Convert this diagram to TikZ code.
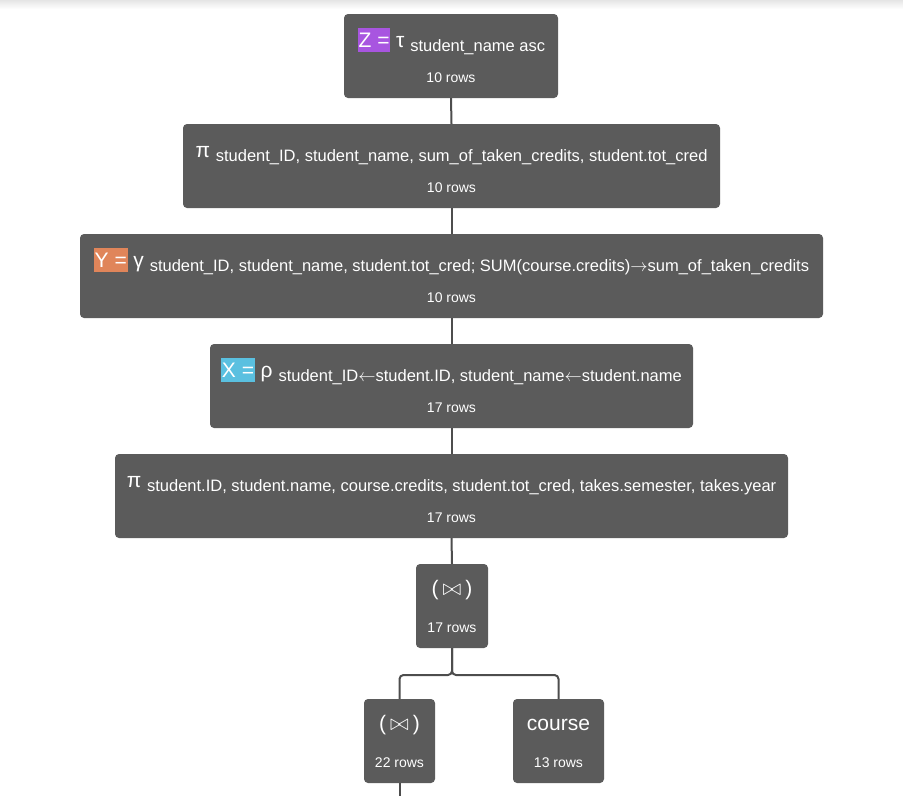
\documentclass[tikz,border=0pt]{standalone}
\usepackage{fontspec}
\setmainfont{Liberation Sans}
\definecolor{boxgray}{HTML}{5B5B5B}
\definecolor{linegray}{HTML}{4D4D4D}
\definecolor{zc}{HTML}{A855E0}
\definecolor{yc}{HTML}{E0855A}
\definecolor{xc}{HTML}{5AC0E0}
\newcommand\hlbox[2]{{\setlength{\fboxsep}{0.8pt}\colorbox{#1}{\rule[-4pt]{0pt}{22pt}#2}}}
\newcommand\mainsz{\fontsize{21}{25}\selectfont}
\newcommand\subtxt[1]{\raisebox{-4.5pt}{\fontsize{16.5}{19}\selectfont #1}}
\newcommand\rowsz{\fontsize{14}{16}\selectfont}
\newcommand\rarr{$\rightarrow$}
\newcommand\larr{$\leftarrow$}
\newcommand\bowsym{\raisebox{-0.3pt}{\scalebox{1.1}{$\bowtie$}}}
\begin{document}
\begin{tikzpicture}[x=1pt,y=-1pt,
  box/.style={fill=boxgray, rounded corners=4pt, inner sep=0pt},
  ttl/.style={anchor=base, text=white, inner sep=0pt},
  rows/.style={anchor=base, text=white, inner sep=0pt, font=\rowsz},
  conn/.style={draw=linegray, line width=2pt}]
\useasboundingbox (0,0) rectangle (903,796);
\shade[top color=black!10, bottom color=white] (0,0) rectangle (903,9);
% boxes
\node[box, minimum width=214pt, minimum height=84pt] (z) at (451,56) {};
\node[box, minimum width=537pt, minimum height=84pt] (p1) at (451.5,166) {};
\node[box, minimum width=743pt, minimum height=84pt] (y) at (451.5,276) {};
\node[box, minimum width=483pt, minimum height=84pt] (x) at (451.5,386) {};
\node[box, minimum width=673pt, minimum height=84pt] (p2) at (451.5,496) {};
\node[box, minimum width=72pt, minimum height=84pt] (j) at (452,606) {};
\node[box, minimum width=71pt, minimum height=84pt] (j2) at (399.5,741) {};
\node[box, minimum width=91pt, minimum height=84pt] (c) at (558.5,741) {};
% texts
\node[ttl] (zt) at (451.5,47) {\mainsz\hlbox{zc}{Z =} τ \subtxt{student\_name asc}};
\node[rows] (zr) at (451,82) {10 rows};
\node[ttl] (p1t) at (451.5,157) {\mainsz π \subtxt{student\_ID, student\_name, sum\_of\_taken\_credits, student.tot\_cred}};
\node[rows] (p1r) at (451.5,192) {10 rows};
\node[ttl] (yt) at (451.5,267) {\mainsz\hlbox{yc}{Y =} γ \subtxt{student\_ID, student\_name, student.tot\_cred; SUM(course.credits)\rarr sum\_of\_taken\_credits}};
\node[rows] (yr) at (451.5,302) {10 rows};
\node[ttl] (xt) at (451.5,377) {\mainsz\hlbox{xc}{X =} ρ \subtxt{student\_ID\larr student.ID, student\_name\larr student.name}};
\node[rows] (xr) at (451.5,412) {17 rows};
\node[ttl] (p2t) at (451.5,487) {\mainsz π \subtxt{student.ID, student.name, course.credits, student.tot\_cred, takes.semester, takes.year}};
\node[rows] (p2r) at (451.5,522) {17 rows};
\node[ttl] (jt) at (452,595) {\mainsz (\hspace{4pt}\bowsym\hspace{4pt})};
\node[rows] (jr) at (452,632) {17 rows};
\node[ttl] (j2t) at (399.5,730) {\mainsz (\hspace{4pt}\bowsym\hspace{4pt})};
\node[rows] (j2r) at (399.5,767) {22 rows};
\node[ttl] (ct) at (558.5,730) {\mainsz course};
\node[rows] (cr) at (558.5,767) {13 rows};
% connectors
\coordinate (hb) at (452,675);
\coordinate (bot) at (399.5,796);
\draw[conn] (z.south) -- (p1.north);
\draw[conn] (p1.south) -- (y.north);
\draw[conn] (y.south) -- (x.north);
\draw[conn] (x.south) -- (p2.north);
\draw[conn] (p2.south) -- (j.north);
\draw[conn, rounded corners=4pt] (j.south) -- (hb) -| (j2.north);
\draw[conn, rounded corners=4pt] (j.south) -- (hb) -| (c.north);
\draw[conn] (j2.south) -- (bot);
\end{tikzpicture}
\end{document}
